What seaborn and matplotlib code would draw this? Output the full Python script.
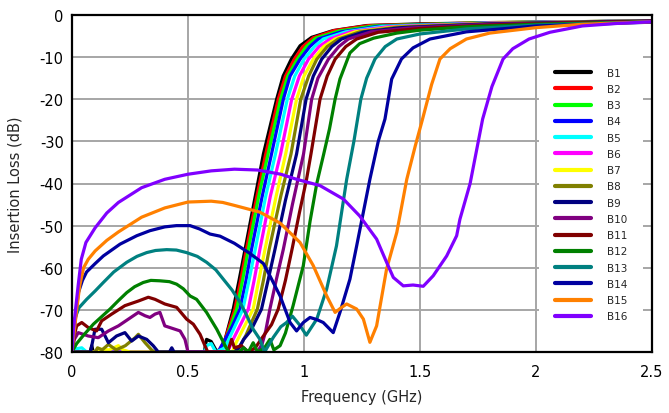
import matplotlib
matplotlib.use("Agg")
import matplotlib.pyplot as plt
import seaborn as sns
import pandas as pd
from matplotlib.lines import Line2D

# ---------------- data ----------------
band_names = ["B1", "B2", "B3", "B4", "B5", "B6", "B7", "B8",
              "B9", "B10", "B11", "B12", "B13", "B14", "B15", "B16"]
band_colors = ["#000000", "#FF0000", "#00FF00", "#0000FF", "#00FFFF", "#FF00FF",
               "#FFFF00", "#808000", "#000080", "#800080", "#800000", "#008000",
               "#008080", "#0000A0", "#FF8000", "#8000FF"]

b1_f = [0, 0.078, 0.085, 0.092, 0.57, 0.58, 0.6, 0.62, 0.64, 0.66, 0.695, 0.72, 0.746, 0.79, 0.825,
        0.882, 0.91, 0.945, 0.983, 1.033, 1.125, 1.27, 1.5, 2.0, 2.5]
b1_db = [-80, -80, -78.5, -80, -80, -77, -77.5, -79.5, -80, -77, -69.8, -63, -55.6, -43, -33,
         -20, -14.5, -10.5, -7.3, -5.3, -3.7, -2.5, -2.1, -1.7, -1.4]

b2_f = [0, 0.63, 0.66, 0.702, 0.727, 0.752, 0.797, 0.835, 0.889, 0.92, 0.958, 0.995, 1.04,
        1.13, 1.28, 1.8, 2.5]
b2_db = [-80, -80, -77, -69.8, -63, -55.6, -43, -33, -20, -14.5, -10.5, -7.5, -5.4,
         -3.7, -2.5, -1.8, -1.4]

b3_f = [0, 0.64, 0.67, 0.71, 0.735, 0.76, 0.805, 0.845, 0.899, 0.93, 0.971, 1.01, 1.05,
        1.15, 1.3, 1.8, 2.5]
b3_db = [-80, -80, -76, -69.8, -63, -55.6, -43, -33, -20, -14.5, -10.5, -7.5, -5.5,
         -3.8, -2.6, -1.8, -1.4]

b4_f = [0, 0.63, 0.66, 0.69, 0.724, 0.75, 0.774, 0.82, 0.86, 0.911, 0.94, 0.983, 1.025,
        1.062, 1.16, 1.32, 1.8, 2.5]
b4_db = [-80, -80, -77, -74, -69.8, -63, -55.6, -43, -33, -20, -14.5, -10.5, -7.5,
         -5.7, -4, -2.7, -1.9, -1.4]

b5_f = [0, 0.013, 0.042, 0.063, 0.57, 0.58, 0.6, 0.62, 0.66, 0.68, 0.737, 0.763, 0.79,
        0.835, 0.877, 0.928, 0.96, 1.0, 1.045, 1.083, 1.18, 1.34, 1.8, 2.5]
b5_db = [-80, -79.3, -79, -80, -80, -78.5, -78, -80, -79, -76.5, -69.8, -63, -55.6,
         -43, -33, -20, -14.5, -10.5, -7.5, -5.7, -4, -2.7, -1.9, -1.4]

b6_f = [0, 0.67, 0.69, 0.76, 0.785, 0.81, 0.855, 0.899, 0.947, 0.98, 1.019, 1.065, 1.112,
        1.2, 1.36, 1.8, 2.5]
b6_db = [-80, -80, -77.5, -69.8, -63, -55.6, -43, -33, -20, -14.5, -10.5, -7.5, -5.7,
         -4, -2.8, -1.9, -1.4]

b7_f = [0, 0.11, 0.12, 0.16, 0.2, 0.22, 0.25, 0.69, 0.71, 0.781, 0.805, 0.832, 0.88, 0.921,
        0.968, 1.0, 1.04, 1.085, 1.134, 1.22, 1.38, 1.8, 2.5]
b7_db = [-80, -80, -79.3, -79.5, -78.5, -79.5, -80, -80, -77.5, -69.8, -63, -55.6, -43, -33,
         -20, -14.5, -10.5, -7.5, -5.7, -4, -2.9, -2.0, -1.4]

b8_f = [0, 0.1, 0.11, 0.13, 0.157, 0.19, 0.23, 0.272, 0.286, 0.315, 0.343, 0.355, 0.7, 0.72,
        0.75, 0.799, 0.825, 0.85, 0.9, 0.944, 0.986, 1.02, 1.055, 1.1, 1.148, 1.24, 1.4, 1.8, 2.5]
b8_db = [-80, -80, -79, -79.5, -78.2, -79.5, -78.5, -76.6, -75.8, -77.8, -79.5, -80, -80, -79,
         -76, -69.8, -63, -55.6, -43, -33, -20, -14.5, -10.5, -7.5, -5.7, -4, -2.9, -2.0, -1.4]

b9_f = [0, 0.08, 0.099, 0.128, 0.157, 0.192, 0.228, 0.257, 0.286, 0.322, 0.35, 0.372, 0.42,
        0.43, 0.44, 0.7, 0.72, 0.74, 0.77, 0.817, 0.845, 0.875, 0.92, 0.968, 1.009, 1.04,
        1.076, 1.12, 1.162, 1.26, 1.42, 1.8, 2.5]
b9_db = [-80, -80, -74.6, -74.6, -77.8, -76.2, -75.4, -77.4, -76.2, -77, -78.5, -80, -80,
         -79, -80, -80, -79, -77, -75, -69.8, -63, -55.6, -44, -33, -20, -14.5,
         -10.5, -7.5, -5.7, -4, -3, -2.1, -1.4]

b10_f = [0, 0.01, 0.027, 0.07, 0.113, 0.157, 0.2, 0.243, 0.286, 0.315, 0.336, 0.358, 0.379,
         0.4, 0.422, 0.466, 0.487, 0.5, 0.8, 0.82, 0.835, 0.853, 0.88, 0.911, 0.95, 0.998,
         1.033, 1.06, 1.105, 1.15, 1.191, 1.29, 1.45, 1.8, 2.5]
b10_db = [-80, -77, -75.4, -76.2, -76.6, -75, -73.8, -72.2, -70.6, -71.4, -71.8, -71, -70.6,
          -73.8, -74.2, -75, -77, -80, -80, -78, -75, -69.8, -63, -55.6, -45, -33,
          -20, -15, -10.5, -7.5, -5.7, -4, -3.1, -2.2, -1.5]

b11_f = [0, 0.01, 0.02, 0.042, 0.07, 0.106, 0.128, 0.171, 0.228, 0.286, 0.329, 0.358, 0.4,
         0.451, 0.494, 0.523, 0.552, 0.573, 0.585, 0.67, 0.688, 0.7, 0.73, 0.76, 0.79, 0.825,
         0.86, 0.889, 0.92, 0.95, 0.98, 1.011, 1.03, 1.069, 1.1, 1.134, 1.18, 1.227, 1.32,
         1.5, 1.8, 2.1, 2.5]
b11_db = [-80, -76, -73.8, -73, -74.2, -75, -72.6, -71, -69, -67.9, -67, -67.5, -68.6,
          -69.4, -72.2, -73.4, -75.8, -78.5, -80, -80, -77, -79, -78.5, -80, -79, -76.2,
          -73.5, -69.8, -63, -55.2, -47, -39, -33, -20, -14.5, -10.5, -7.5, -5.7, -4.1,
          -3.2, -2.4, -1.9, -1.5]

b12_f = [0, 0.02, 0.05, 0.092, 0.13, 0.164, 0.2, 0.236, 0.27, 0.307, 0.34, 0.379, 0.42, 0.451,
         0.48, 0.509, 0.537, 0.58, 0.624, 0.66, 0.675, 0.72, 0.74, 0.76, 0.781, 0.8, 0.83,
         0.853, 0.87, 0.897, 0.92, 0.953, 0.997, 1.026, 1.055, 1.085, 1.11, 1.134, 1.155,
         1.198, 1.24, 1.3, 1.4, 1.5, 1.7, 2.0, 2.5]
b12_db = [-80, -78, -76, -73.4, -71.5, -69.8, -67.8, -65.9, -64.5, -63.5, -63, -63.1, -63.3,
          -63.9, -65, -66.7, -67.5, -70.6, -74.6, -78.5, -80, -80, -79, -80, -77.8, -80, -79,
          -77, -79.5, -78.5, -75.5, -69, -59.5, -49, -40, -33, -27, -20, -15.2,
          -9, -6.8, -5.5, -4.3, -3.6, -2.8, -2.2, -1.6]

b13_f = [0, 0.006, 0.03, 0.063, 0.1, 0.135, 0.18, 0.236, 0.28, 0.322, 0.36, 0.408, 0.45,
         0.494, 0.54, 0.58, 0.62, 0.652, 0.69, 0.724, 0.75, 0.781, 0.81, 0.83, 0.868, 0.9,
         0.925, 0.95, 0.98, 1.01, 1.055, 1.098, 1.14, 1.184, 1.215, 1.245, 1.27, 1.306,
         1.35, 1.4, 1.5, 1.7, 2.0, 2.5]
b13_db = [-80, -73, -69.5, -67.5, -65.5, -63.5, -61, -58.7, -57.3, -56.4, -55.9, -55.7, -55.8,
          -56.4, -57.3, -58.7, -60.5, -62.7, -65.3, -68.2, -71, -74.6, -77, -80, -76.5, -74,
          -73, -71.5, -73.5, -76, -72.2, -65, -54.8, -39, -30, -20, -15, -10.45,
          -7.5, -5.7, -4.5, -3.3, -2.4, -1.6]

b14_f = [0, 0.006, 0.015, 0.027, 0.045, 0.063, 0.1, 0.135, 0.207, 0.279, 0.336, 0.4, 0.45,
         0.509, 0.55, 0.595, 0.638, 0.7, 0.767, 0.825, 0.853, 0.897, 0.94, 0.968, 0.997,
         1.026, 1.055, 1.083, 1.126, 1.155, 1.198, 1.227, 1.284, 1.32, 1.349, 1.378, 1.42,
         1.47, 1.543, 1.7, 2.0, 2.5]
b14_db = [-80, -77, -72, -66, -63, -61, -59, -57.2, -54.4, -52.4, -51.2, -50.3, -50,
          -50, -50.8, -52, -52.5, -54.2, -56.6, -59, -61.9, -66.7, -73, -75, -73,
          -71.8, -72.3, -73, -75.4, -70.6, -62.7, -54.8, -39, -30, -24.7, -15.2, -10.45,
          -7.8, -5.7, -4, -2.6, -1.7]

b15_f = [0, 0.008, 0.02, 0.034, 0.05, 0.07, 0.1, 0.15, 0.2, 0.3, 0.4, 0.5, 0.6, 0.65, 0.7,
         0.81, 0.897, 0.983, 1.04, 1.098, 1.134, 1.16, 1.184, 1.227, 1.256, 1.284, 1.313,
         1.356, 1.4, 1.443, 1.48, 1.511, 1.55, 1.586, 1.63, 1.7, 1.8, 2.0, 2.2, 2.5]
b15_db = [-80, -76, -70, -64, -60, -58, -56, -53.5, -51.5, -48, -45.8, -44.4, -44.2, -44.5,
          -45.2, -46.8, -49.4, -54, -59.5, -66.7, -70.6, -69.5, -68.6, -69.8, -72.2, -77.7,
          -73.8, -60.3, -51.6, -39, -31, -24.7, -16.5, -10.45, -8, -5.7, -4.3, -3, -2.2, -1.6]

b16_f = [0, 0.006, 0.015, 0.027, 0.04, 0.06, 0.1, 0.15, 0.2, 0.3, 0.4, 0.5, 0.6, 0.7, 0.8,
         0.9, 0.968, 1.069, 1.17, 1.24, 1.313, 1.356, 1.385, 1.428, 1.47, 1.514, 1.557,
         1.615, 1.658, 1.672, 1.716, 1.77, 1.81, 1.858, 1.9, 1.97, 2.06, 2.2, 2.35, 2.5]
b16_db = [-80, -75, -70, -64, -58, -54, -50.5, -47, -44.5, -41, -39, -37.8, -37, -36.6, -36.8,
          -37.8, -39, -40.5, -43.7, -47.7, -53.2, -58.7, -62.3, -64.3, -64.1, -64.4, -61.9,
          -57.2, -52.4, -48.5, -40, -24.7, -17, -10.45, -8, -5.7, -4.1, -2.6, -2.0, -1.6]

band_f = [b1_f, b2_f, b3_f, b4_f, b5_f, b6_f, b7_f, b8_f,
          b9_f, b10_f, b11_f, b12_f, b13_f, b14_f, b15_f, b16_f]
band_db = [b1_db, b2_db, b3_db, b4_db, b5_db, b6_db, b7_db, b8_db,
           b9_db, b10_db, b11_db, b12_db, b13_db, b14_db, b15_db, b16_db]

x_ticks = [0, 0.5, 1, 1.5, 2, 2.5]
x_tick_labels = ["0", "0.5", "1", "1.5", "2", "2.5"]
y_ticks = [0, -10, -20, -30, -40, -50, -60, -70, -80]
y_tick_labels = ["0", "-10", "-20", "-30", "-40", "-50", "-60", "-70", "-80"]

# ---------------- build table ----------------
rows = []
for name, fs, ds in zip(band_names, band_f, band_db):
    for f, d in zip(fs, ds):
        rows.append((name, f, d))
df = pd.DataFrame(rows, columns=["band", "freq", "loss"])

# ---------------- plot ----------------
sns.set_theme(style="white")
plt.rcParams["font.family"] = ["DejaVu Sans"]
plt.rcParams["axes.unicode_minus"] = False

fig = plt.figure(figsize=(6.69, 4.14), dpi=100)
ax = fig.add_axes([72 / 669, 1 - 353 / 414, (652 - 72) / 669, (353 - 16) / 414])

sns.lineplot(data=df, x="freq", y="loss", hue="band", hue_order=band_names,
             palette=dict(zip(band_names, band_colors)), estimator=None, sort=False,
             linewidth=2.3, legend=False, ax=ax)

ax.set_xlim(0, 2.5)
ax.set_ylim(-80, 0)
ax.set_xticks(x_ticks)
ax.set_xticklabels(x_tick_labels)
ax.set_yticks(y_ticks)
ax.set_yticklabels(y_tick_labels)
ax.tick_params(axis="both", length=0, labelsize=10.5, colors="black")
ax.tick_params(axis="x", pad=9)
ax.tick_params(axis="y", pad=6)
ax.grid(True, color="#A6A6A6", linewidth=1.4)
ax.set_axisbelow(True)
for s in ax.spines.values():
    s.set_color("black")
    s.set_linewidth(1.6)

ax.set_xlabel("Frequency (GHz)", fontsize=10.5, labelpad=7)
ax.set_ylabel("Insertion Loss (dB)", fontsize=10.5, labelpad=12)

handles = [Line2D([0], [0], color=c, lw=3.0) for c in band_colors]
leg = ax.legend(handles, band_names, loc="upper left", bbox_to_anchor=(0.806, 0.89),
                fontsize=7.5, handlelength=3.4, handletextpad=1.6, labelspacing=0.6,
                frameon=True, fancybox=False, borderpad=1.5, borderaxespad=0)
leg.get_frame().set_facecolor("white")
leg.get_frame().set_edgecolor("none")
leg.get_frame().set_alpha(1)

fig.savefig("out.png", dpi=100)
